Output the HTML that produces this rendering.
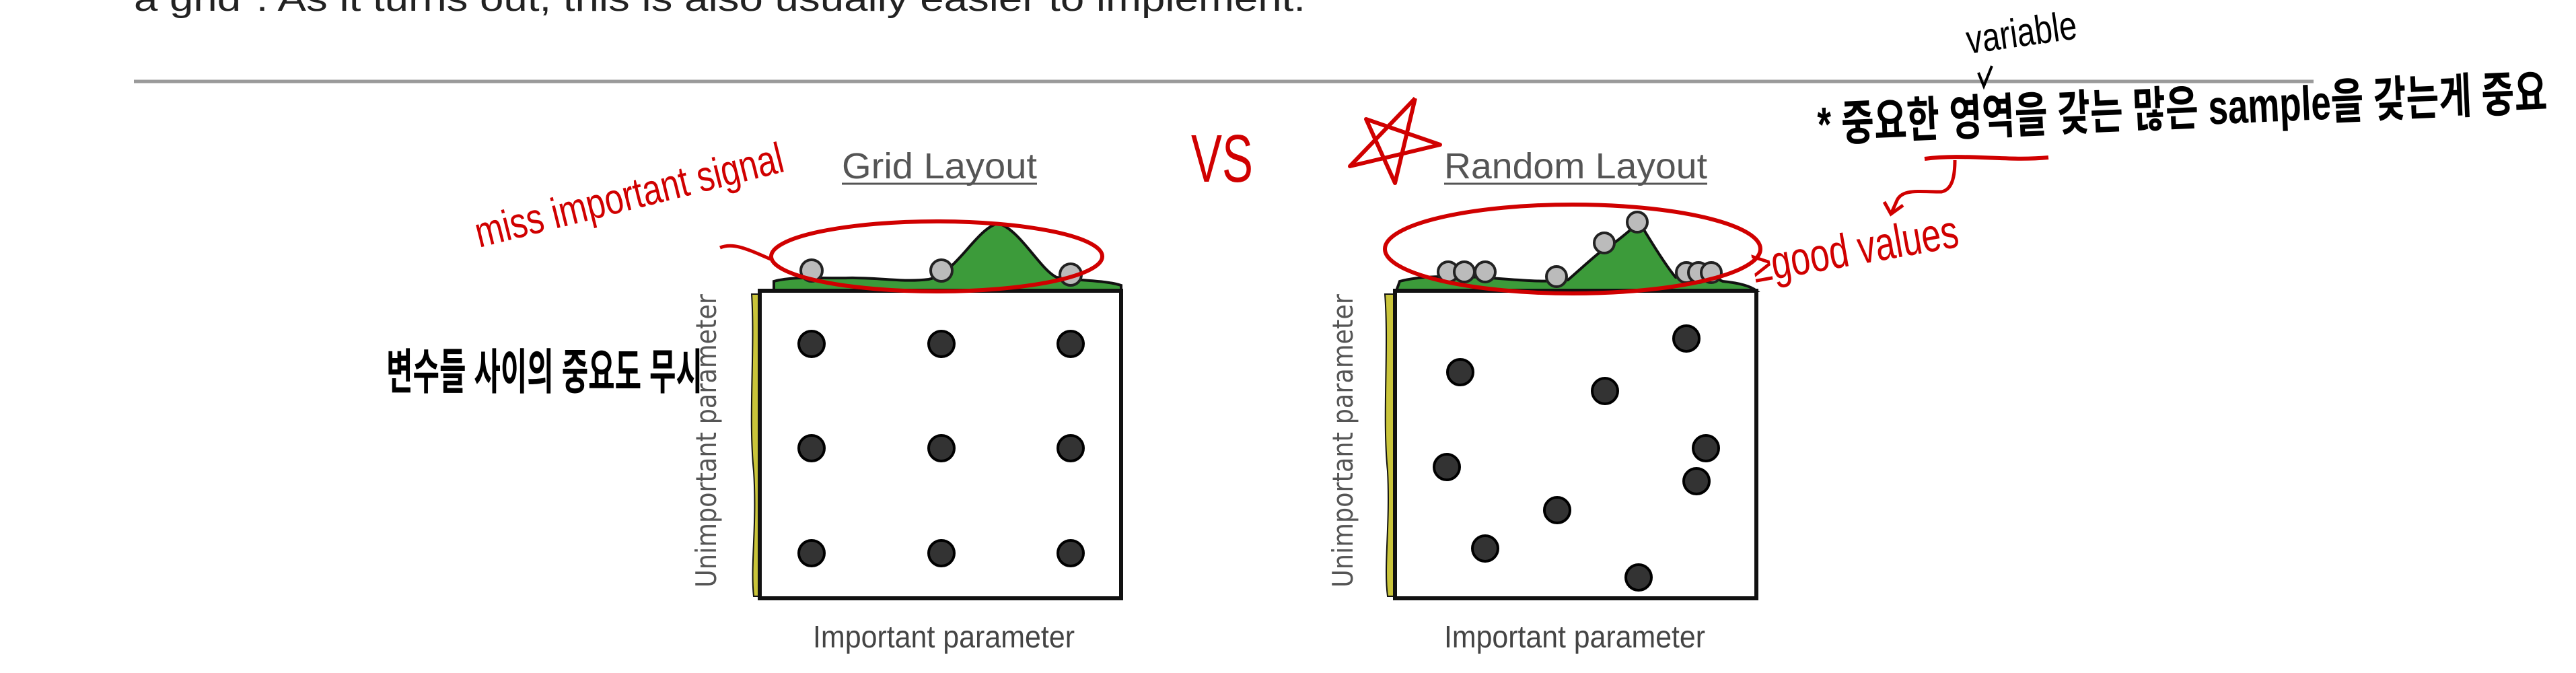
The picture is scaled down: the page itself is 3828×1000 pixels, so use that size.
<!DOCTYPE html>
<html><head><meta charset="utf-8"><style>
html,body{margin:0;padding:0;background:#fff;}
svg{display:block;}
</style></head><body>
<svg width="3828" height="1000" viewBox="0 0 3828 1000" xmlns="http://www.w3.org/2000/svg">
<rect width="3828" height="1000" fill="#fff"/>
<text x="199" y="16" font-family="Liberation Sans, sans-serif" font-size="52" fill="#222" textLength="1741" lengthAdjust="spacingAndGlyphs">a grid". As it turns out, this is also usually easier to implement.</text>
<line x1="199" y1="121" x2="3438" y2="121" stroke="#9a9a9a" stroke-width="5"/>

<!-- LEFT PANEL -->
<text x="1251" y="265" font-family="Liberation Sans, sans-serif" font-size="54" fill="#555" textLength="290" lengthAdjust="spacingAndGlyphs">Grid Layout</text>
<line x1="1251" y1="273" x2="1541" y2="273" stroke="#555" stroke-width="3"/>
<path d="M1150,432 L1150,418 C1180,410 1220,414 1260,413 C1310,412 1340,420 1380,415 C1420,408 1450,340 1483,332 C1515,340 1545,400 1570,412 C1610,418 1640,416 1666,424 L1666,432 Z" fill="#3c9b3a" stroke="#111" stroke-width="4"/>
<path d="M1117,437 C1122,520 1112,620 1120,700 C1125,780 1115,840 1120,886 L1129,886 L1129,437 Z" fill="#c9c43a" stroke="#111" stroke-width="2"/>
<rect x="1129" y="432" width="537" height="457" fill="#fff" stroke="#111" stroke-width="6"/>
<g fill="#bbb" stroke="#222" stroke-width="4">
<circle cx="1206" cy="402" r="16"/><circle cx="1399" cy="402" r="16"/><circle cx="1591" cy="408" r="16"/>
</g>
<g fill="#333" stroke="#000" stroke-width="4">
<circle cx="1206" cy="511" r="19"/><circle cx="1399" cy="511" r="19"/><circle cx="1591" cy="511" r="19"/>
<circle cx="1206" cy="666" r="19"/><circle cx="1399" cy="666" r="19"/><circle cx="1591" cy="666" r="19"/>
<circle cx="1206" cy="822" r="19"/><circle cx="1399" cy="822" r="19"/><circle cx="1591" cy="822" r="19"/>
</g>
<text transform="translate(1064,873) rotate(-90)" font-family="DejaVu Sans, sans-serif" font-size="42" fill="#555" textLength="436" lengthAdjust="spacingAndGlyphs">Unimportant parameter</text>
<text x="1208" y="962" font-family="Liberation Sans, sans-serif" font-size="46" fill="#444" textLength="389" lengthAdjust="spacingAndGlyphs">Important parameter</text>

<!-- annotations left -->
<text transform="translate(712,368) rotate(-14)" font-family="Liberation Sans, sans-serif" font-size="64" fill="#d00000" textLength="470" lengthAdjust="spacingAndGlyphs">miss important signal</text>
<path d="M1070,368 C1090,360 1110,370 1145,385" fill="none" stroke="#d00000" stroke-width="5"/>
<ellipse cx="1392" cy="381" rx="246" ry="52" fill="none" stroke="#d00000" stroke-width="6"/>
<text x="1770" y="270" font-family="Liberation Sans, sans-serif" font-size="100" fill="#d00000" textLength="92" lengthAdjust="spacingAndGlyphs">VS</text>
<text x="574" y="578" font-family="Liberation Sans, 'Noto Sans CJK KR', sans-serif" font-size="72" font-weight="bold" fill="#000" textLength="470" lengthAdjust="spacingAndGlyphs">변수들 사이의 중요도 무시</text>

<!-- RIGHT PANEL -->
<text x="2146" y="265" font-family="Liberation Sans, sans-serif" font-size="54" fill="#555" textLength="391" lengthAdjust="spacingAndGlyphs">Random Layout</text>
<line x1="2146" y1="273" x2="2537" y2="273" stroke="#555" stroke-width="3"/>
<path d="M2075,432 L2080,418 C2110,410 2150,410 2200,412 C2260,416 2290,420 2330,416 C2360,390 2380,370 2400,360 C2420,345 2430,335 2436,330 C2460,370 2480,400 2490,412 C2520,412 2540,408 2560,418 C2580,420 2600,424 2610,432 Z" fill="#3c9b3a" stroke="#111" stroke-width="4"/>
<path d="M2058,437 C2064,520 2054,620 2062,700 C2066,780 2056,840 2062,886 L2073,886 L2073,437 Z" fill="#c9c43a" stroke="#111" stroke-width="2"/>
<rect x="2073" y="432" width="537" height="457" fill="#fff" stroke="#111" stroke-width="6"/>
<g fill="#bbb" stroke="#222" stroke-width="4">
<circle cx="2152" cy="404" r="15"/><circle cx="2176" cy="404" r="15"/><circle cx="2207" cy="404" r="15"/>
<circle cx="2313" cy="411" r="15"/><circle cx="2384" cy="361" r="15"/><circle cx="2433" cy="330" r="15"/>
<circle cx="2506" cy="405" r="15"/><circle cx="2524" cy="405" r="15"/><circle cx="2543" cy="405" r="15"/>
</g>
<g fill="#333" stroke="#000" stroke-width="4">
<circle cx="2506" cy="503" r="19"/><circle cx="2170" cy="553" r="19"/><circle cx="2385" cy="581" r="19"/>
<circle cx="2535" cy="666" r="19"/><circle cx="2150" cy="694" r="19"/><circle cx="2521" cy="715" r="19"/>
<circle cx="2314" cy="758" r="19"/><circle cx="2207" cy="815" r="19"/><circle cx="2435" cy="858" r="19"/>
</g>
<text transform="translate(2010,873) rotate(-90)" font-family="DejaVu Sans, sans-serif" font-size="42" fill="#555" textLength="436" lengthAdjust="spacingAndGlyphs">Unimportant parameter</text>
<text x="2146" y="962" font-family="Liberation Sans, sans-serif" font-size="46" fill="#444" textLength="388" lengthAdjust="spacingAndGlyphs">Important parameter</text>

<!-- annotations right -->
<path d="M2103,146 L2073,272 L2030,177 L2140,215 L2006,247 L2103,146" fill="none" stroke="#d00000" stroke-width="6" stroke-linejoin="round"/>
<ellipse cx="2337" cy="370" rx="279" ry="66" fill="none" stroke="#d00000" stroke-width="6"/>
<text transform="translate(2608,420) rotate(-10)" font-family="Liberation Sans, sans-serif" font-size="70" fill="#d00000" textLength="310" lengthAdjust="spacingAndGlyphs">≥good values</text>
<path d="M2860,236 C2920,228 2980,240 3044,234" fill="none" stroke="#d00000" stroke-width="6"/>
<path d="M2905,238 C2905,265 2900,282 2885,285 C2850,285 2825,280 2818,300 L2810,318" fill="none" stroke="#d00000" stroke-width="5"/>
<path d="M2800,300 L2810,318 L2828,305" fill="none" stroke="#d00000" stroke-width="5"/>
<text transform="translate(2925,80) rotate(-8)" font-family="Liberation Sans, sans-serif" font-size="60" fill="#000" textLength="165" lengthAdjust="spacingAndGlyphs">variable</text>
<path d="M2940,108 L2948,128 L2960,98" fill="none" stroke="#000" stroke-width="4"/>
<text transform="translate(2702,210) rotate(-2.5)" font-family="Liberation Sans, 'Noto Sans CJK KR', sans-serif" font-size="72" font-weight="bold" fill="#000" textLength="1085" lengthAdjust="spacingAndGlyphs">* 중요한 영역을 갖는 많은 sample을 갖는게 중요</text>
</svg>
</body></html>
